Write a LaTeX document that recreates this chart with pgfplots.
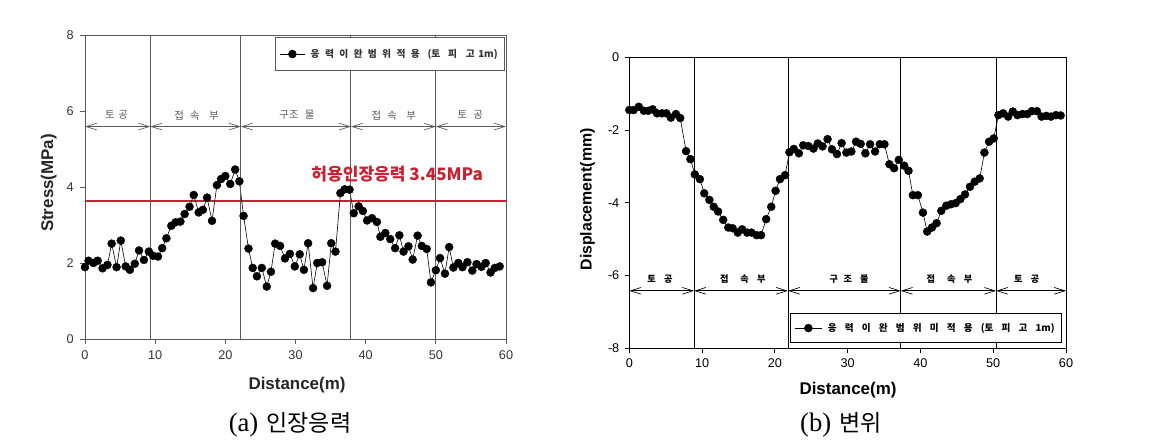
\documentclass[border=0pt]{standalone}
\usepackage{fontspec}
\setmainfont{Liberation Sans}
\newfontfamily\kr{Noto Sans CJK KR}
\newfontfamily\serifrm{Liberation Serif}
\usepackage{pgfplots}
\pgfplotsset{compat=1.18}
\usetikzlibrary{arrows.meta}
\definecolor{redline}{HTML}{C62231}
\definecolor{lgray}{HTML}{5A5A5A}
\newcommand{\kg}[1]{\hspace{#1em}}
\tikzset{barb/.style={{Straight Barb[length=8pt,width=5pt]}-{Straight Barb[length=8pt,width=5pt]}}}
\begin{document}
\begin{tikzpicture}
\useasboundingbox (0,0) rectangle (872.25pt,-330.75pt);
% ---------------- left: stress ----------------
\begin{axis}[
  at={(63.75pt,-254.25pt)}, anchor=south west,
  scale only axis, width=315.75pt, height=228pt,
  xmin=0, xmax=60, ymin=0, ymax=8,
  xtick={0,10,...,60}, ytick={0,2,...,8},
  tick align=outside, tick pos=left, major tick length=3.5pt,
  axis line style={lgray, line width=0.7pt}, tick style={lgray, line width=0.7pt},
  tick label style={font=\fontsize{9.5}{11}\selectfont, text=black!80},
  xticklabel style={yshift=-2pt},
  yticklabel style={xshift=-1.5pt},
  /pgf/number format/assume math mode=true,
  legend style={at={(0.9976,0.9934)}, anchor=north east, draw=black!65, line width=0.9pt,
    inner xsep=3pt, inner ysep=6.5pt, font=\kr\bfseries\fontsize{7.3}{8.5}\selectfont, text=black!80},
  legend cell align=left,
  legend image code/.code={\draw[mark repeat=2,mark phase=2] plot coordinates {(0cm,0cm) (0.34cm,0cm) (0.68cm,0cm)};},
  clip=false,
]
\addplot[redline, line width=1.5pt, forget plot] coordinates {(0,3.62) (60,3.62)};
\addplot[black, line width=0.45pt, mark=*, mark size=3pt, mark options={fill=black, line width=0.3pt}] coordinates {
(0,1.89)(0.5,2.06)(1.2,2.0)(1.8,2.06)(2.5,1.86)(3.2,1.95)(3.8,2.51)(4.5,1.89)(5.1,2.59)(5.8,1.91)
(6.4,1.82)(7.1,1.98)(7.7,2.33)(8.4,2.08)(9.1,2.30)(9.7,2.19)(10.4,2.17)(11.0,2.39)(11.6,2.65)(12.3,2.98)
(12.9,3.07)(13.6,3.09)(14.2,3.29)(14.9,3.48)(15.5,3.79)(16.2,3.33)(16.8,3.40)(17.4,3.72)(18.1,3.11)(18.8,4.05)
(19.4,4.21)(20.0,4.29)(20.7,4.08)(21.4,4.46)(22.0,4.15)(22.6,3.24)(23.3,2.38)(23.9,1.87)(24.5,1.65)(25.2,1.87)
(25.9,1.38)(26.5,1.77)(27.1,2.51)(27.8,2.45)(28.5,2.12)(29.2,2.24)(29.9,1.91)(30.6,2.23)(31.2,1.82)(31.8,2.52)
(32.5,1.34)(33.1,2.0)(33.8,2.02)(34.5,1.40)(35.1,2.52)(35.7,2.30)(36.4,3.84)(37.0,3.94)(37.7,3.93)(38.3,3.31)
(39.0,3.49)(39.6,3.37)(40.2,3.12)(40.9,3.18)(41.6,3.08)(42.1,2.69)(42.8,2.79)(43.5,2.63)(44.2,2.39)(44.8,2.73)
(45.4,2.30)(46.1,2.44)(46.7,2.09)(47.4,2.72)(48.0,2.45)(48.7,2.37)(49.3,1.49)(50.0,1.81)(50.6,2.13)(51.3,1.72)
(51.9,2.42)(52.5,1.88)(53.2,2.0)(53.8,1.89)(54.5,2.02)(55.2,1.80)(55.8,1.97)(56.5,1.90)(57.1,2.0)(57.8,1.75)
(58.4,1.87)(59.1,1.91)};
\addlegendentry{\kg{0.25}응\kg{0.55}력\kg{0.55}이\kg{0.55}완\kg{0.55}범\kg{0.55}위\kg{0.55}적\kg{0.55}용\kg{0.8}(토\kg{0.8}피\kg{0.9}고\kg{0.35}1m)}
% section lines
\draw[lgray, line width=0.7pt] (axis cs:9.3,0) -- (axis cs:9.3,8);
\draw[lgray, line width=0.7pt] (axis cs:22.2,0) -- (axis cs:22.2,8);
\draw[lgray, line width=0.7pt] (axis cs:37.9,0) -- (axis cs:37.9,8);
\draw[lgray, line width=0.7pt] (axis cs:50,0) -- (axis cs:50,8);
\draw[barb, lgray, line width=0.5pt] (axis cs:0,5.59) -- (axis cs:9.3,5.59);
\draw[barb, lgray, line width=0.5pt] (axis cs:9.3,5.59) -- (axis cs:22.2,5.59);
\draw[barb, lgray, line width=0.5pt] (axis cs:22.2,5.59) -- (axis cs:37.9,5.59);
\draw[barb, lgray, line width=0.5pt] (axis cs:37.9,5.59) -- (axis cs:50,5.59);
\draw[barb, lgray, line width=0.5pt] (axis cs:50,5.59) -- (axis cs:60,5.59);
\node[font=\kr\fontsize{7.8}{9}\selectfont, text=lgray] at (axis cs:4.5,5.89) {토\kg{0.35}공};
\node[font=\kr\fontsize{7.8}{9}\selectfont, text=lgray] at (axis cs:15.9,5.89) {접\kg{0.6}속\kg{0.9}부};
\node[font=\kr\fontsize{7.8}{9}\selectfont, text=lgray] at (axis cs:30.2,5.89) {구조\kg{0.6}물};
\node[font=\kr\fontsize{7.8}{9}\selectfont, text=lgray] at (axis cs:44.0,5.89) {접\kg{0.6}속\kg{0.9}부};
\node[font=\kr\fontsize{7.8}{9}\selectfont, text=lgray] at (axis cs:54.9,5.89) {토\kg{0.6}공};
\node[text=redline, font=\kr\bfseries\fontsize{12.8}{14}\selectfont] at (axis cs:44.5,4.34) {허용인장응력 3.45MPa};
\end{axis}
% ---------------- right: displacement ----------------
\begin{axis}[
  at={(471.975pt,-261.225pt)}, anchor=south west,
  scale only axis, width=327.525pt, height=218.25pt,
  xmin=0, xmax=60, ymin=-8, ymax=0,
  xtick={0,10,...,60}, ytick={-8,-6,...,0},
  tick align=outside, tick pos=left, major tick length=3.5pt,
  axis line style={black, line width=0.7pt}, tick style={black, line width=0.7pt},
  tick label style={font=\fontsize{9.5}{11}\selectfont, text=black},
  xticklabel style={yshift=-1pt},
  yticklabel style={xshift=-0.5pt},
  /pgf/number format/assume math mode=true,
  legend style={at={(0.9909,0.018)}, anchor=south east, draw=black, line width=0.9pt,
    inner xsep=3pt, inner ysep=5pt, font=\kr\bfseries\fontsize{7.2}{8}\selectfont, text=black},
  legend cell align=left,
  legend image code/.code={\draw[mark repeat=2,mark phase=2] plot coordinates {(0cm,0cm) (0.36cm,0cm) (0.72cm,0cm)};},
  clip=false,
]
\addplot[black, line width=0.45pt, mark=*, mark size=3pt, mark options={fill=black, line width=0.3pt}] coordinates {
(0,-1.45)(0.6,-1.45)(1.3,-1.36)(2.0,-1.47)(2.6,-1.47)(3.2,-1.43)(3.8,-1.54)(4.5,-1.54)(5.1,-1.54)(5.7,-1.66)
(6.4,-1.56)(7.0,-1.67)(7.8,-2.58)(8.4,-2.80)(9.0,-3.22)(9.7,-3.35)(10.3,-3.74)(11.0,-3.92)(11.6,-4.11)(12.2,-4.24)
(12.9,-4.47)(13.6,-4.68)(14.2,-4.70)(14.9,-4.82)(15.5,-4.73)(16.2,-4.82)(16.8,-4.82)(17.5,-4.89)(18.1,-4.89)(18.8,-4.45)
(19.5,-4.11)(20.1,-3.67)(20.7,-3.35)(21.4,-3.24)(22.0,-2.61)(22.6,-2.52)(23.3,-2.64)(23.9,-2.42)(24.6,-2.44)(25.3,-2.51)
(25.9,-2.37)(26.55,-2.45)(27.24,-2.25)(27.84,-2.53)(28.53,-2.66)(29.17,-2.36)(29.82,-2.62)(30.51,-2.59)(31.15,-2.32)(31.79,-2.38)
(32.43,-2.64)(33.08,-2.39)(33.77,-2.59)(34.41,-2.39)(35.05,-2.39)(35.74,-2.94)(36.38,-3.05)(37.03,-2.82)(37.76,-2.98)(38.36,-3.12)
(38.96,-3.79)(39.65,-3.79)(40.34,-4.27)(40.93,-4.79)(41.58,-4.68)(42.22,-4.56)(42.86,-4.22)(43.55,-4.08)(44.19,-4.04)(44.84,-4.01)
(45.48,-3.90)(46.12,-3.77)(46.81,-3.56)(47.46,-3.42)(48.14,-3.33)(48.79,-2.62)(49.43,-2.32)(50.07,-2.23)(50.72,-1.59)(51.36,-1.54)
(52.05,-1.63)(52.69,-1.49)(53.34,-1.59)(54.02,-1.56)(54.67,-1.56)(55.31,-1.48)(56.0,-1.48)(56.64,-1.63)(57.29,-1.61)(57.93,-1.63)
(58.62,-1.59)(59.26,-1.60)};
\addlegendentry{\kg{0.3}응\kg{0.85}력\kg{0.85}이\kg{0.85}완\kg{0.85}범\kg{0.85}위\kg{0.85}미\kg{0.85}적\kg{0.85}용\kg{0.85}(토\kg{0.85}피\kg{0.85}고\kg{0.85}1m)}
\draw[black, line width=0.7pt] (axis cs:8.9,-8) -- (axis cs:8.9,0);
\draw[black, line width=0.7pt] (axis cs:21.8,-8) -- (axis cs:21.8,0);
\draw[black, line width=0.7pt] (axis cs:37.3,-8) -- (axis cs:37.3,0);
\draw[black, line width=0.7pt] (axis cs:50.4,-8) -- (axis cs:50.4,0);
\draw[barb, black, line width=0.5pt] (axis cs:0,-6.42) -- (axis cs:8.9,-6.42);
\draw[barb, black, line width=0.5pt] (axis cs:8.9,-6.42) -- (axis cs:21.8,-6.42);
\draw[barb, black, line width=0.5pt] (axis cs:21.8,-6.42) -- (axis cs:37.3,-6.42);
\draw[barb, black, line width=0.5pt] (axis cs:37.3,-6.42) -- (axis cs:50.4,-6.42);
\draw[barb, black, line width=0.5pt] (axis cs:50.4,-6.42) -- (axis cs:60,-6.42);
\node[font=\kr\bfseries\fontsize{6.9}{8}\selectfont] at (axis cs:4.2,-6.1) {토\kg{0.9}공};
\node[font=\kr\bfseries\fontsize{6.9}{8}\selectfont] at (axis cs:15.6,-6.1) {접\kg{1.3}속\kg{0.9}부};
\node[font=\kr\bfseries\fontsize{6.9}{8}\selectfont] at (axis cs:30.2,-6.1) {구\kg{0.6}조\kg{0.9}물};
\node[font=\kr\bfseries\fontsize{6.9}{8}\selectfont] at (axis cs:44.0,-6.1) {접\kg{1.3}속\kg{0.9}부};
\node[font=\kr\bfseries\fontsize{6.9}{8}\selectfont] at (axis cs:54.6,-6.1) {토\kg{0.9}공};
\end{axis}
% ---------------- outer labels ----------------
\node[rotate=90, font=\bfseries\fontsize{12.7}{14}\selectfont, text=black!85] at (36.5pt,-137.25pt) {Stress(MPa)};
\node[font=\bfseries\fontsize{12.7}{14}\selectfont, text=black!85] at (222.75pt,-288.75pt) {Distance(m)};
\node[rotate=90, font=\bfseries\fontsize{11.9}{14}\selectfont] at (440.6pt,-149.6pt) {Displacement(mm)};
\node[font=\bfseries\fontsize{12.7}{14}\selectfont] at (636pt,-292.5pt) {Distance(m)};
\node at (217.5pt,-318.75pt) {{\serifrm\fontsize{20}{22}\selectfont(a)}\hspace{6pt}{\kr\fontsize{17.3}{20}\selectfont 인장응력}};
\node at (630.75pt,-318.75pt) {{\serifrm\fontsize{20}{22}\selectfont(b)}\hspace{6pt}{\kr\fontsize{17.3}{20}\selectfont 변위}};
\end{tikzpicture}
\end{document}
